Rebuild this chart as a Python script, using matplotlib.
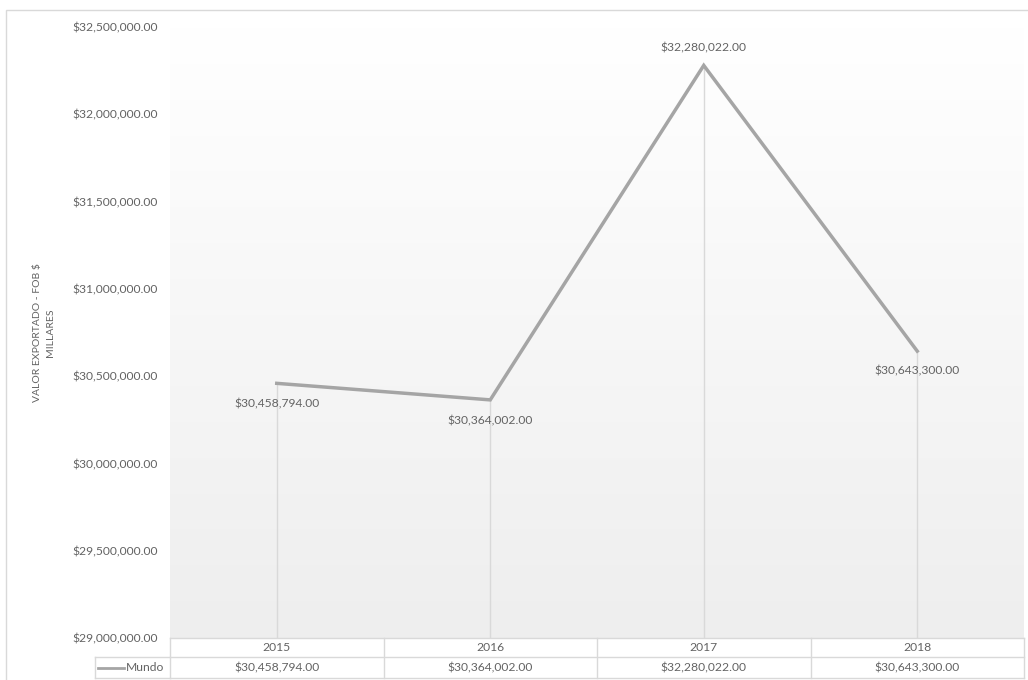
import matplotlib
matplotlib.use("Agg")
import matplotlib.pyplot as plt
import numpy as np
from matplotlib.lines import Line2D
from matplotlib.patches import Rectangle
from matplotlib.ticker import FuncFormatter, MultipleLocator

years = ["2015", "2016", "2017", "2018"]
series_name = "Mundo"
mundo = [30458794.00, 30364002.00, 32280022.00, 30643300.00]
y_title = "VALOR EXPORTADO - FOB $\nMILLARES"

W, H = 1028, 680
fig = plt.figure(figsize=(W / 100, H / 100), dpi=100)
plt.rcParams["font.family"] = ["Lato", "DejaVu Sans"]

TXT = "#636363"
GRID = "#d9d9d9"
LINE = "#a5a5a5"
FS = 8.7

# plot area in pixel terms
left, right, top, bottom = 170, 1024, 27, 638
ax = fig.add_axes([left / W, 1 - bottom / H, (right - left) / W, (bottom - top) / H])

def money(v, pos=None):
    return f"${v:,.2f}"

x = np.arange(len(years))
ymin, ymax = 29000000, 32500000

# vertical gradient background of the plot area
grad = np.linspace(0, 1, 256).reshape(-1, 1)
top_c = np.array([1.0, 1.0, 1.0])
bot_c = np.array([0xEE, 0xEE, 0xEE]) / 255
img = (top_c + (bot_c - top_c) * grad)[:, None, :]
img = np.repeat(img, 2, axis=1)
ax.imshow(img, extent=[-0.5, len(years) - 0.5, ymin, ymax],
          aspect="auto", origin="upper", zorder=0)
ax.set_ylim(ymin, ymax)
ax.set_xlim(-0.5, len(years) - 0.5)

# drop lines
ax.vlines(x, ymin, mundo, color=GRID, lw=1.0, zorder=1)
ax.plot(x, mundo, color=LINE, lw=2.5, zorder=3, solid_joinstyle="miter")

# data labels
offsets = [(0, -15), (0, -15), (0, 12.5), (0, -14)]
for xi, v, (dx, dy) in zip(x, mundo, offsets):
    ax.annotate(money(v), (xi, v), xytext=(dx, dy), textcoords="offset points",
                ha="center", va="center", fontsize=FS, color=TXT, zorder=4)

ax.yaxis.set_major_locator(MultipleLocator(500000))
ax.yaxis.set_major_formatter(FuncFormatter(money))
ax.tick_params(axis="y", length=0, labelsize=FS, labelcolor=TXT, pad=9)
ax.tick_params(axis="x", length=0, labelbottom=False)
ax.set_xticks([])
for s in ax.spines.values():
    s.set_visible(False)

ax.set_ylabel(y_title, fontsize=7.5, color=TXT, labelpad=12, linespacing=1.6)

# data table under the plot
trans = ax.get_xaxis_transform()
ph = bottom - top
r1 = -(657 - bottom) / ph
r2 = -(678 - bottom) / ph
kw = dict(transform=trans, clip_on=False, color=GRID, lw=1.0)
for yy in (0, r1, r2):
    ax.add_line(Line2D([-0.5, len(years) - 0.5], [yy, yy], **kw))
for b in np.arange(-0.5, len(years)):
    ax.add_line(Line2D([b, b], [0, r2], **kw))
# legend cell on the left of the value row
lx0 = (95 - left) / (right - left) * len(years) - 0.5
ax.add_line(Line2D([lx0, -0.5], [r1, r1], **kw))
ax.add_line(Line2D([lx0, -0.5], [r2, r2], **kw))
ax.add_line(Line2D([lx0, lx0], [r1, r2], **kw))

for xi, yr, v in zip(x, years, mundo):
    ax.text(xi, r1 / 2, yr, transform=trans, ha="center", va="center",
            fontsize=FS, color=TXT, clip_on=False)
    ax.text(xi, (r1 + r2) / 2, money(v), transform=trans, ha="center", va="center",
            fontsize=FS, color=TXT, clip_on=False)

kx0 = (98 - left) / (right - left) * len(years) - 0.5
kx1 = (124 - left) / (right - left) * len(years) - 0.5
ax.add_line(Line2D([kx0, kx1], [(r1 + r2) / 2] * 2, transform=trans,
                   clip_on=False, color=LINE, lw=2.0))
ax.text(kx1 + 0.01, (r1 + r2) / 2, series_name, transform=trans, ha="left",
        va="center", fontsize=FS, color=TXT, clip_on=False)

# outer chart border
fig.patches.append(Rectangle((6 / W, -0.01), 1.2, 1 - 10 / H + 0.01,
                             transform=fig.transFigure, fill=False,
                             edgecolor="#d9d9d9", lw=1.0))

fig.savefig("out.png", dpi=100, facecolor="white")
